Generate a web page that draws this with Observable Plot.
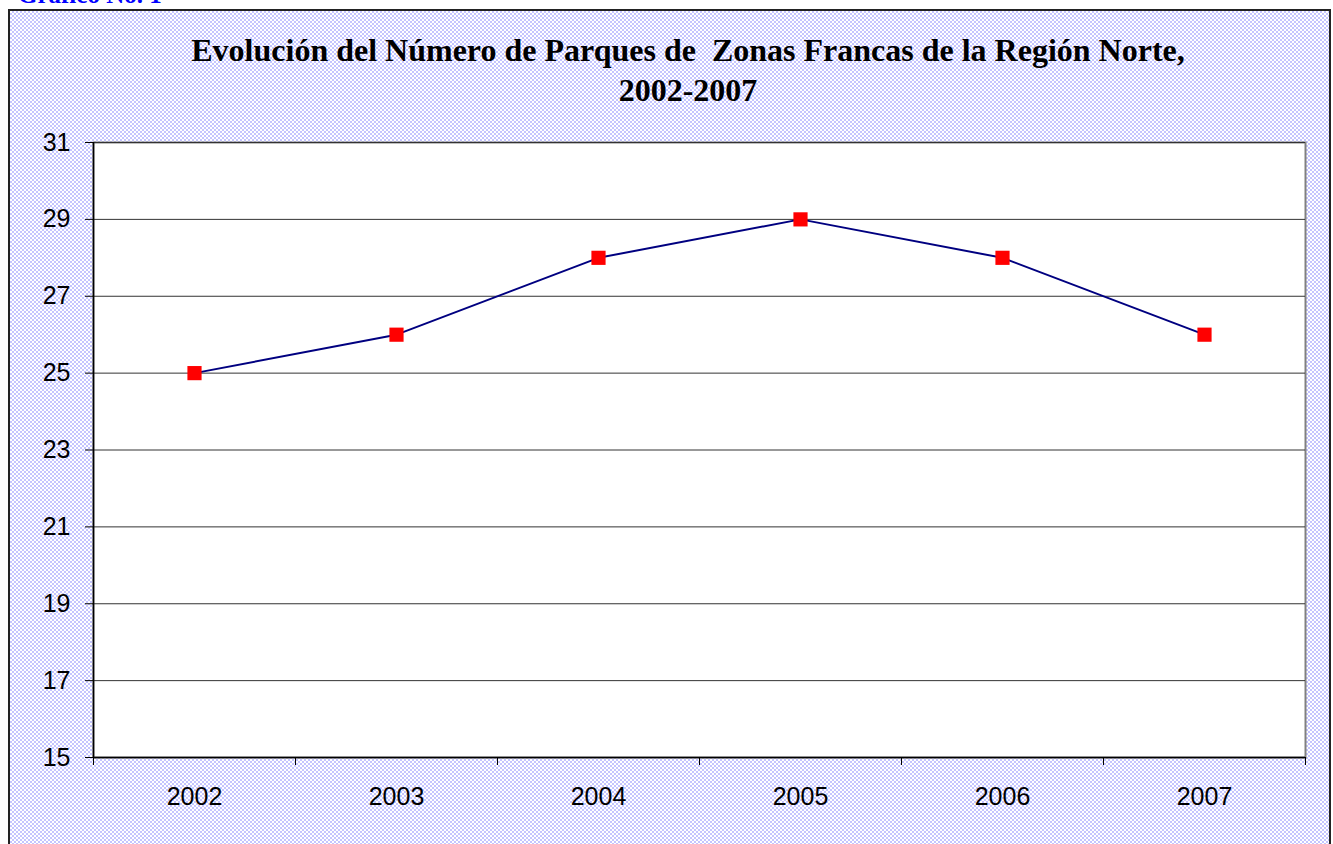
<!DOCTYPE html>
<html>
<head>
<meta charset="utf-8">
<script src="https://cdn.jsdelivr.net/npm/d3@7"></script>
<script src="https://cdn.jsdelivr.net/npm/@observablehq/plot@0.6"></script>
<style>
  html, body { margin: 0; padding: 0; background: #fff; width: 1333px; height: 844px; overflow: hidden; }
  #frame {
    position: absolute; left: 8px; top: 9px; width: 1319px; height: 900px;
    border: 2px solid #222;
    background-color: #fff;
    background-image: conic-gradient(#c4c4ff 25%, #ffffff 0 50%, #c4c4ff 0 75%, #ffffff 0);
    background-size: 4px 4px;
  }
  #label {
    position: absolute; left: 18px; top: -19px;
    font: bold 25px "Liberation Serif", "Times New Roman", serif; color: #0000ff;
  }
  #title {
    position: absolute; left: 0; top: 30px; width: 1376px; text-align: center;
    font: bold 32px/40px "Liberation Serif", "Times New Roman", serif; color: #000;
  }
  #chart { position: absolute; left: 0; top: 0; }
  #chart svg text { font-size: 25px; font-family: "Liberation Sans", Arial, sans-serif; fill: #000; }
</style>
</head>
<body>
<div id="frame"></div>
<div id="label">Gráfico No. 1</div>
<div id="title">Evolución del Número de Parques de&nbsp; Zonas Francas de la Región Norte,<br>2002-2007</div>
<div id="chart"></div>
<script>
const years = [2002, 2003, 2004, 2005, 2006, 2007];
const parques = [25, 26, 28, 29, 28, 26];
const yTicks = [15, 17, 19, 21, 23, 25, 27, 29, 31];

const data = years.map((y, i) => ({year: y, value: parques[i]}));
const boundaries = [...years.map(y => y - 0.5), years[years.length - 1] + 0.5];

const chart = Plot.plot({
  width: 1333,
  height: 844,
  marginLeft: 93,
  marginRight: 28,
  marginTop: 142,
  marginBottom: 87,
  style: {background: "transparent", fontFamily: "Liberation Sans, Arial, sans-serif", fontSize: "25px", color: "#000"},
  x: {type: "linear", domain: [boundaries[0], boundaries[boundaries.length - 1]]},
  y: {domain: [15, 31]},
  marks: [
    Plot.frame({fill: "white", stroke: "#808080", strokeWidth: 2}),
    Plot.gridY(yTicks, {stroke: "#333", strokeOpacity: 1, strokeWidth: 1}),
    Plot.ruleX([boundaries[0]], {stroke: "#000", strokeWidth: 1.5}),
    Plot.ruleY([15], {stroke: "#000", strokeWidth: 1.5}),
    Plot.axisY({ticks: yTicks, tickSize: 8, tickPadding: 15, label: null}),
    Plot.axisX({ticks: boundaries, tickSize: 8, tickFormat: () => "", label: null}),
    Plot.axisX({ticks: years, tickSize: 0, tickPadding: 30, tickFormat: d => String(d), label: null}),
    Plot.line(data, {x: "year", y: "value", stroke: "#000080", strokeWidth: 2}),
    Plot.dot(data, {x: "year", y: "value", symbol: "square", r: 8, fill: "#ff0000", stroke: "none"})
  ]
});
document.getElementById("chart").appendChild(chart);
</script>
</body>
</html>
